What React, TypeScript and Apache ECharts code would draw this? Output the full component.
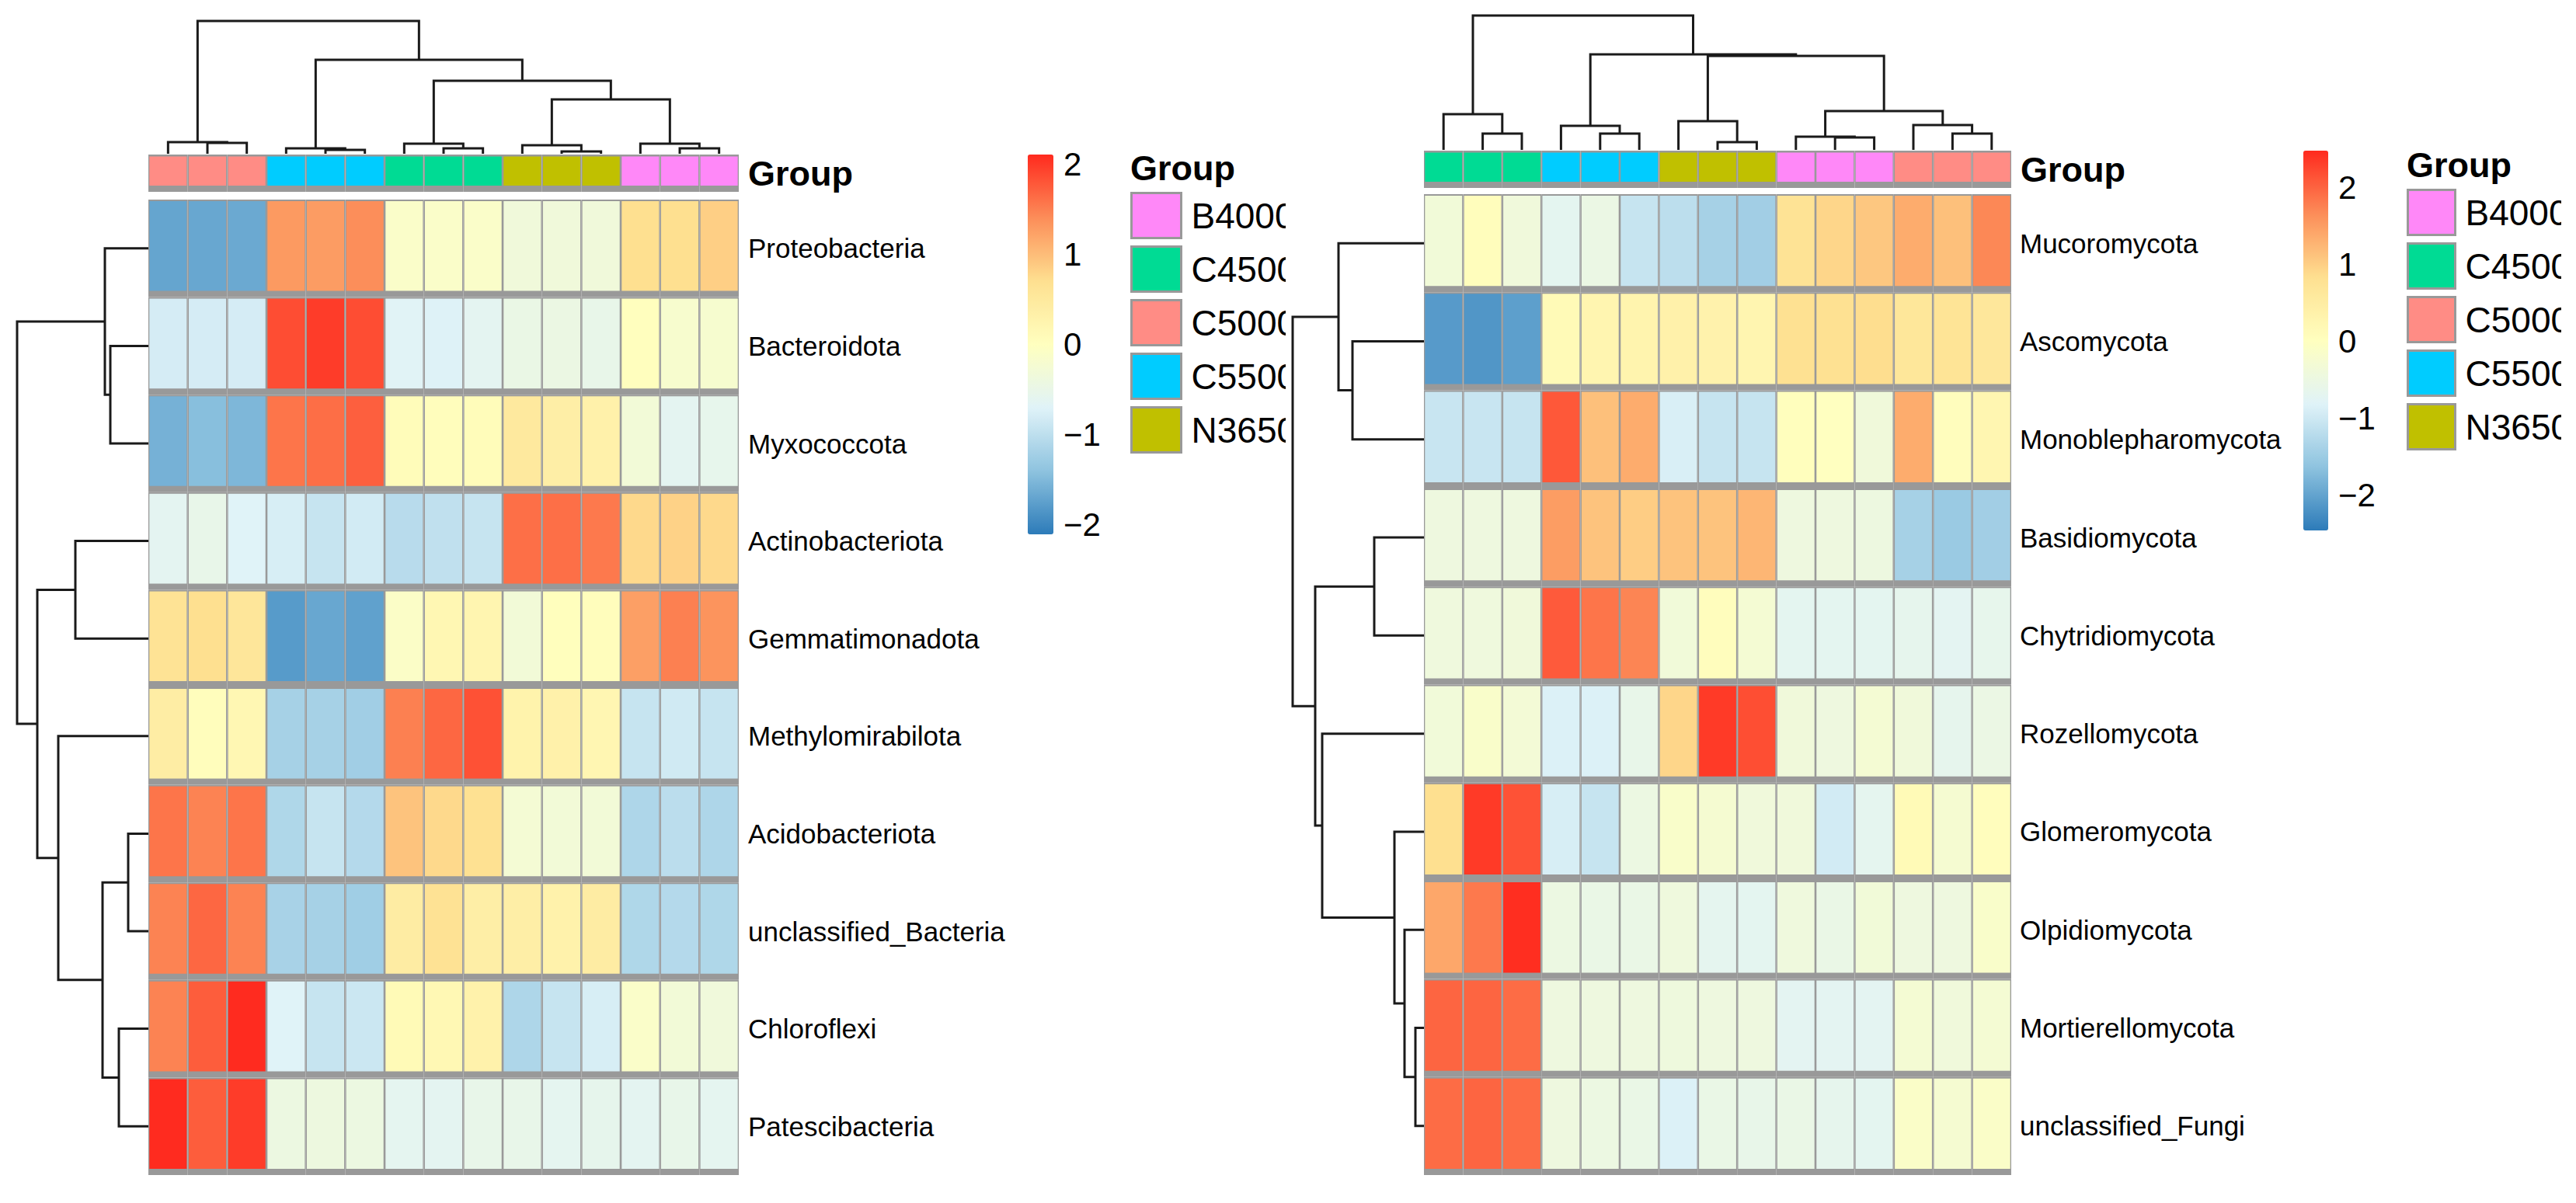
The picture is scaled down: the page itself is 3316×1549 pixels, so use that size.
import React, { useEffect, useRef } from 'react';
import * as echarts from 'echarts';

// ---------------- data ----------------
const GROUPS = ['B4000', 'C4500', 'C5000', 'C5500', 'N3650'];
const GROUP_COLORS: Record<string, string> = {
  B4000: '#FF88F8',
  C4500: '#00DB94',
  C5000: '#FF8C85',
  C5500: '#00CCFF',
  N3650: '#C0C000',
};

const leftRows = [
  'Proteobacteria', 'Bacteroidota', 'Myxococcota', 'Actinobacteriota', 'Gemmatimonadota',
  'Methylomirabilota', 'Acidobacteriota', 'unclassified_Bacteria', 'Chloroflexi', 'Patescibacteria',
];
const leftSamples = [
  'C5000_1', 'C5000_2', 'C5000_3', 'C5500_1', 'C5500_2', 'C5500_3', 'C4500_1', 'C4500_2', 'C4500_3',
  'N3650_1', 'N3650_2', 'N3650_3', 'B4000_1', 'B4000_2', 'B4000_3',
];
const leftSampleGroups = [
  'C5000', 'C5000', 'C5000', 'C5500', 'C5500', 'C5500', 'C4500', 'C4500', 'C4500',
  'N3650', 'N3650', 'N3650', 'B4000', 'B4000', 'B4000',
];
const leftValues = [
  [-1.70, -1.68, -1.66, 1.30, 1.28, 1.40, -0.12, -0.12, -0.12, -0.33, -0.33, -0.33, 0.70, 0.70, 0.85],
  [-0.80, -0.80, -0.80, 1.86, 1.98, 1.86, -0.68, -0.72, -0.62, -0.47, -0.45, -0.52, 0.02, -0.18, -0.20],
  [-1.58, -1.45, -1.52, 1.58, 1.63, 1.73, 0.07, 0.05, 0.07, 0.50, 0.38, 0.32, -0.30, -0.62, -0.55],
  [-0.62, -0.52, -0.70, -0.78, -0.93, -0.82, -1.05, -0.98, -0.93, 1.62, 1.62, 1.55, 0.76, 0.82, 0.76],
  [0.63, 0.70, 0.56, -1.80, -1.68, -1.74, -0.10, 0.18, 0.22, -0.30, 0.03, 0.05, 1.25, 1.50, 1.35],
  [0.40, 0.05, 0.18, -1.20, -1.20, -1.24, 1.50, 1.68, 1.83, 0.28, 0.32, 0.20, -0.93, -0.84, -0.93],
  [1.58, 1.48, 1.58, -1.12, -0.93, -1.08, 0.95, 0.76, 0.68, -0.26, -0.30, -0.30, -1.13, -1.02, -1.13],
  [1.48, 1.68, 1.48, -1.18, -1.20, -1.25, 0.42, 0.65, 0.38, 0.38, 0.30, 0.42, -1.12, -1.08, -1.12],
  [1.48, 1.75, 2.10, -0.70, -0.93, -0.88, 0.12, 0.17, 0.30, -1.13, -0.93, -0.78, -0.12, -0.30, -0.35],
  [2.10, 1.75, 1.98, -0.42, -0.40, -0.42, -0.60, -0.62, -0.52, -0.52, -0.60, -0.56, -0.62, -0.52, -0.60],
];
// hclust-style merges: negative = leaf (1-based display position), positive = earlier merge; [a, b, height]
const leftColMerges = [
  [-2, -3, 14], [-1, 1, 15], [-5, -6, 5], [-4, 3, 7], [-8, -9, 7], [-7, 5, 13], [-11, -12, 3],
  [-10, 7, 11], [-14, -15, 7], [-13, 9, 13], [8, 10, 70], [6, 11, 94], [4, 12, 121], [2, 13, 171],
];
const leftRowMerges = [
  [-2, -3, 49], [-1, 1, 56], [-4, -5, 94], [-7, -8, 26], [-9, -10, 38], [4, 5, 59], [-6, 6, 116],
  [3, 7, 143], [2, 8, 169],
];
const leftScale = [-2.11, 2.11];

const rightRows = [
  'Mucoromycota', 'Ascomycota', 'Monoblepharomycota', 'Basidiomycota', 'Chytridiomycota',
  'Rozellomycota', 'Glomeromycota', 'Olpidiomycota', 'Mortierellomycota', 'unclassified_Fungi',
];
const rightSamples = [
  'C4500_1', 'C4500_2', 'C4500_3', 'C5500_1', 'C5500_2', 'C5500_3', 'N3650_1', 'N3650_2', 'N3650_3',
  'B4000_1', 'B4000_2', 'B4000_3', 'C5000_1', 'C5000_2', 'C5000_3',
];
const rightSampleGroups = [
  'C4500', 'C4500', 'C4500', 'C5500', 'C5500', 'C5500', 'N3650', 'N3650', 'N3650',
  'B4000', 'B4000', 'B4000', 'C5000', 'C5000', 'C5000',
];
const rightValues = [
  [-0.35, 0.06, -0.40, -0.70, -0.52, -1.07, -1.17, -1.40, -1.44, 0.75, 0.93, 1.08, 1.35, 1.15, 1.70],
  [-2.10, -2.15, -2.05, 0.15, 0.28, 0.30, 0.38, 0.35, 0.28, 0.80, 0.80, 0.85, 0.66, 0.72, 0.64],
  [-1.05, -1.05, -1.07, 2.10, 1.15, 1.35, -0.88, -1.07, -1.07, 0.04, 0.00, -0.38, 1.35, 0.05, 0.25],
  [-0.45, -0.45, -0.45, 1.50, 1.12, 1.02, 1.12, 1.12, 1.25, -0.45, -0.45, -0.47, -1.40, -1.52, -1.44],
  [-0.42, -0.42, -0.38, 2.08, 1.86, 1.72, -0.36, 0.05, -0.28, -0.70, -0.70, -0.70, -0.66, -0.72, -0.64],
  [-0.36, -0.15, -0.32, -0.85, -0.85, -0.60, 0.93, 2.35, 2.18, -0.38, -0.45, -0.28, -0.38, -0.65, -0.52],
  [0.83, 2.35, 2.15, -0.90, -1.07, -0.50, -0.15, -0.25, -0.40, -0.40, -0.95, -0.68, 0.15, -0.25, 0.05],
  [1.40, 1.82, 2.45, -0.50, -0.55, -0.55, -0.42, -0.68, -0.70, -0.42, -0.55, -0.35, -0.45, -0.45, -0.15],
  [1.99, 1.99, 1.93, -0.45, -0.45, -0.45, -0.43, -0.45, -0.45, -0.72, -0.72, -0.72, -0.28, -0.40, -0.28],
  [1.93, 1.99, 1.93, -0.45, -0.50, -0.55, -0.85, -0.55, -0.60, -0.55, -0.65, -0.70, -0.12, -0.25, -0.12],
];
const rightColMerges = [
  [-2, -3, 21], [-1, 1, 46], [-5, -6, 21], [-4, 3, 31], [-8, -9, 10], [-7, 5, 37], [-11, -12, 16],
  [-10, 7, 17], [-14, -15, 21], [-13, 9, 32], [8, 10, 50], [6, 11, 121], [4, 12, 123], [2, 13, 173],
];
const rightRowMerges = [
  [-2, -3, 92], [-1, 1, 110], [-4, -5, 64], [-9, -10, 11], [-8, 4, 25], [-7, 5, 38], [-6, 6, 131],
  [3, 7, 140], [2, 8, 169],
];
const rightScale = [-2.46, 2.48];
const colorTicks = [-2, -1, 0, 1, 2];

// ---------------- style ----------------
const FONT = '"Liberation Sans", Arial, Helvetica, sans-serif';
const PALETTE = ['#2C7BB9', '#8EC3DF', '#E0F3F8', '#FFFFBF', '#FEE090', '#FC8D59', '#FF2A1E'];
const GRAY = '#999999';
const LINE = '#1a1a1a';

// ---------------- helpers ----------------
function dendroSegments(merges: number[][]) {
  const pos: number[] = [];
  const hts: number[] = [];
  const node = (k: number) => (k < 0 ? [-k - 1 + 0.5, 0] : [pos[k - 1], hts[k - 1]]);
  return merges.map(([a, b, h], i) => {
    const [pa, ha] = node(a);
    const [pb, hb] = node(b);
    pos[i] = (pa + pb) / 2;
    hts[i] = h;
    return [pa, ha, pa, h, pb, h, pb, hb];
  });
}

const dendroRender = (horizontal: boolean) => (_p: any, api: any) => {
  const pts: number[][] = [];
  for (let i = 0; i < 4; i++) {
    const p = api.value(2 * i);
    const h = api.value(2 * i + 1);
    pts.push(api.coord(horizontal ? [h, p] : [p, h]));
  }
  return {
    type: 'polyline',
    shape: { points: pts },
    style: { stroke: LINE, lineWidth: 3, fill: null },
  };
};

const heatRender = (_p: any, api: any) => {
  const c = api.coord([api.value(0), api.value(1)]);
  const s = api.size([1, 1]);
  const w = s[0];
  const h = s[1];
  const x0 = c[0] - w / 2;
  const y0 = c[1] - h / 2;
  return {
    type: 'group',
    children: [
      { type: 'rect', shape: { x: x0, y: y0, width: w, height: h }, style: { fill: GRAY } },
      {
        type: 'rect',
        shape: { x: x0 + 1.3, y: y0 + 2, width: w - 2.6, height: h - 10 },
        style: { fill: api.visual('color') },
      },
    ],
  };
};

const annotRender = (_p: any, api: any) => {
  const c = api.coord([api.value(0), api.value(1)]);
  const s = api.size([1, 1]);
  const w = s[0];
  const h = s[1];
  const x0 = c[0] - w / 2;
  const y0 = c[1] - h / 2;
  return {
    type: 'group',
    children: [
      { type: 'rect', shape: { x: x0, y: y0, width: w, height: h }, style: { fill: GRAY } },
      {
        type: 'rect',
        shape: { x: x0 + 1.3, y: y0 + 2.5, width: w - 2.6, height: h - 10.5 },
        style: { fill: api.visual('color') },
      },
    ],
  };
};

const heatData = (vals: number[][]) => {
  const out: number[][] = [];
  vals.forEach((row, r) => row.forEach((v, c) => out.push([c, r, v])));
  return out;
};

const fmtMinus = (v: number) => (v < 0 ? '\u2212' + Math.abs(v) : String(v));

function buildPanel(cfg: any) {
  // returns grids/axes/series for one panel; axis index base = cfg.base
  const b = cfg.base;
  const grids = [
    { left: cfg.heatLeft, top: cfg.topDendroTop, width: cfg.heatWidth, height: cfg.topDendroH },
    { left: cfg.heatLeft, top: cfg.annotTop, width: cfg.heatWidth, height: 48 },
    { left: cfg.heatLeft, top: cfg.heatTop, width: cfg.heatWidth, height: cfg.heatH },
    { left: cfg.rowDendroLeft, top: cfg.heatTop, width: cfg.heatLeft - cfg.rowDendroLeft, height: cfg.heatH },
    { left: cfg.cbLeft, top: cfg.cbTop, width: cfg.cbW, height: cfg.cbH },
  ].map((g) => ({ ...g, containLabel: false, outerBoundsMode: 'none', show: false }));

  const colRoot = cfg.colMerges[cfg.colMerges.length - 1][2];
  const rowRoot = cfg.rowMerges[cfg.rowMerges.length - 1][2];
  const nCols = cfg.samples.length;
  const nRows = cfg.rows.length;

  const xAxes = [
    { type: 'value', gridIndex: b + 0, min: 0, max: nCols, show: false },
    { type: 'category', gridIndex: b + 1, data: cfg.samples, show: false },
    { type: 'category', gridIndex: b + 2, data: cfg.samples, show: false },
    { type: 'value', gridIndex: b + 3, min: 0, max: rowRoot, inverse: true, show: false },
    { type: 'value', gridIndex: b + 4, min: 0, max: 1, show: false },
  ];
  const yAxes = [
    { type: 'value', gridIndex: b + 0, min: 0, max: colRoot, show: false },
    {
      type: 'category', gridIndex: b + 1, data: ['Group'], position: 'right',
      axisLine: { show: false }, axisTick: { show: false }, splitLine: { show: false },
      axisLabel: { fontSize: 45, fontWeight: 'bold', color: '#000', margin: 12, fontFamily: FONT },
    },
    {
      type: 'category', gridIndex: b + 2, data: cfg.rows, position: 'right', inverse: true,
      axisLine: { show: false }, axisTick: { show: false }, splitLine: { show: false },
      axisLabel: { fontSize: 35, color: '#000', margin: cfg.labelMargin, interval: 0, fontFamily: FONT },
    },
    { type: 'value', gridIndex: b + 3, min: 0, max: nRows, inverse: true, show: false },
    {
      type: 'value', gridIndex: b + 4, min: cfg.scale[0], max: cfg.scale[1], position: 'right',
      axisLine: { show: false }, axisTick: { show: false }, splitLine: { show: false },
      axisLabel: {
        customValues: colorTicks, formatter: fmtMinus, fontSize: 42, color: '#000',
        margin: 13, fontFamily: FONT,
      },
    },
  ];

  const heatSeries = {
    type: 'custom', name: cfg.key + 'Heat', xAxisIndex: b + 2, yAxisIndex: b + 2,
    data: heatData(cfg.values), renderItem: heatRender, silent: true, encode: { x: 0, y: 1 },
  };
  const others: any[] = [
    {
      type: 'custom', name: cfg.key + 'ColTree', xAxisIndex: b, yAxisIndex: b,
      data: dendroSegments(cfg.colMerges), renderItem: dendroRender(false), silent: true,
    },
    {
      type: 'custom', name: cfg.key + 'RowTree', xAxisIndex: b + 3, yAxisIndex: b + 3,
      data: dendroSegments(cfg.rowMerges), renderItem: dendroRender(true), silent: true,
      z: 60,
    },
  ];
  GROUPS.forEach((g) => {
    const data: number[][] = [];
    cfg.sampleGroups.forEach((sg: string, i: number) => {
      if (sg === g) data.push([i, 0]);
    });
    others.push({
      type: 'custom', name: g, xAxisIndex: b + 1, yAxisIndex: b + 1, data,
      itemStyle: { color: GROUP_COLORS[g] }, renderItem: annotRender, silent: true,
    });
  });
  return { grids, xAxes, yAxes, heatSeries, others };
}

function buildOption() {
  const L = buildPanel({
    key: 'left', base: 0, rows: leftRows, samples: leftSamples, sampleGroups: leftSampleGroups,
    values: leftValues, colMerges: leftColMerges, rowMerges: leftRowMerges, scale: leftScale,
    heatLeft: 191, heatWidth: 760, topDendroTop: 27, topDendroH: 171, annotTop: 199,
    heatTop: 257, heatH: 1256, rowDendroLeft: 22, labelMargin: 12,
    cbLeft: 1323, cbTop: 199, cbW: 33, cbH: 489,
  });
  const R = buildPanel({
    key: 'right', base: 5, rows: rightRows, samples: rightSamples, sampleGroups: rightSampleGroups,
    values: rightValues, colMerges: rightColMerges, rowMerges: rightRowMerges, scale: rightScale,
    heatLeft: 1833, heatWidth: 756, topDendroTop: 20, topDendroH: 173, annotTop: 194,
    heatTop: 250, heatH: 1263, rowDendroLeft: 1664, labelMargin: 11,
    cbLeft: 2965, cbTop: 194, cbW: 32, cbH: 489,
  });

  const legendCommon = {
    data: GROUPS, orient: 'vertical', icon: 'rect', selectedMode: false, padding: 0,
    itemGap: 8, itemHeight: 58,
    itemStyle: { borderColor: GRAY, borderWidth: 3 },
    textStyle: { fontSize: 46, color: '#000', fontFamily: FONT, padding: [0, 0, 0, 8] },
  };
  const titleText = { fontSize: 45, fontWeight: 'bold', color: '#000', fontFamily: FONT };

  return {
    animation: false,
    backgroundColor: '#ffffff',
    textStyle: { fontFamily: FONT },
    grid: [...L.grids, ...R.grids],
    xAxis: [...L.xAxes, ...R.xAxes],
    yAxis: [...L.yAxes, ...R.yAxes],
    title: [
      { text: 'Group', left: 1455, top: 194, padding: 0, textStyle: titleText },
      { text: 'Group', left: 3098, top: 190, padding: 0, textStyle: titleText },
    ],
    legend: [
      { ...legendCommon, left: 1455, top: 247, itemWidth: 64 },
      { ...legendCommon, left: 3098, top: 243, itemWidth: 61 },
    ],
    visualMap: [
      {
        type: 'continuous', seriesIndex: 0, dimension: 2, min: leftScale[0], max: leftScale[1],
        inRange: { color: PALETTE }, left: 1323, top: 199, itemWidth: 33, itemHeight: 489,
        calculable: false, padding: 0, hoverLink: false,
      },
      {
        type: 'continuous', seriesIndex: 1, dimension: 2, min: rightScale[0], max: rightScale[1],
        inRange: { color: PALETTE }, left: 2965, top: 194, itemWidth: 32, itemHeight: 489,
        calculable: false, padding: 0, hoverLink: false,
      },
    ],
    graphic: {
      elements: [
        { type: 'rect', z: 50, shape: { x: 1655, y: 240, width: 25, height: 345 }, style: { fill: '#ffffff' } },
        { type: 'rect', z: 50, shape: { x: 3297, y: 235, width: 19, height: 350 }, style: { fill: '#ffffff' } },
      ],
    },
    series: [L.heatSeries, R.heatSeries, ...L.others, ...R.others],
  };
}

export default function App() {
  const ref = useRef<HTMLDivElement>(null);
  useEffect(() => {
    if (!ref.current) return;
    const chart = echarts.init(ref.current, null, { renderer: 'svg' });
    chart.setOption(buildOption() as any);
    return () => chart.dispose();
  }, []);
  return (
    <div
      ref={ref}
      style={{ position: 'fixed', left: 0, top: 0, width: 3316, height: 1549, background: '#ffffff' }}
    />
  );
}
